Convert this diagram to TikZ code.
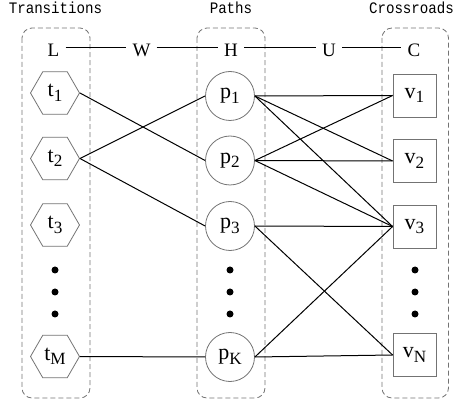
\documentclass[tikz,border=0pt]{standalone}
\usepackage{fontspec}
\newfontfamily\titlefont[FakeStretch=0.885]{Liberation Mono}
\newfontfamily\lblfont{Liberation Serif}
\newcommand\lsub[1]{\raisebox{-0.2em}{\scalebox{0.78}{#1}}}
\usetikzlibrary{shapes.geometric}
\begin{document}
\begin{tikzpicture}[x=1pt,y=-1pt,
  title/.style={font=\titlefont\fontsize{16}{18}\selectfont, anchor=base, inner sep=0pt},
  grp/.style={draw=black!55, dash pattern=on 5pt off 3pt, rounded corners=10pt, line width=0.8pt},
  hdr/.style={font=\lblfont\fontsize{19}{22}\selectfont, anchor=base, inner xsep=6pt, inner ysep=0pt, text height=18.4pt, text depth=0pt},
  hexnode/.style={regular polygon, regular polygon sides=6, draw=black!55, line width=0.8pt, minimum size=49pt, inner sep=0pt, font=\lblfont\fontsize{22}{24}\selectfont},
  pnode/.style={circle, draw=black!55, line width=0.8pt, minimum size=49pt, inner sep=0pt, font=\lblfont\fontsize{22}{24}\selectfont},
  vnode/.style={rectangle, draw=black!55, line width=0.8pt, minimum size=43pt, inner sep=0pt, font=\lblfont\fontsize{22}{24}\selectfont},
  dotnode/.style={circle, fill=black, inner sep=0pt, minimum size=7pt},
  link/.style={draw=black, line width=1pt}
]
\useasboundingbox (0,0) rectangle (456,409);
% groups
\draw[grp] (22,28) rectangle (90,398);
\draw[grp] (197,28) rectangle (265,398);
\draw[grp] (382,28) rectangle (448.5,398);
% titles
\node[title] (tT) at (55.5,13.3) {Transitions};
\node[title] (tP) at (231,13.3) {Paths};
\node[title] (tC) at (411.5,13.3) {Crossroads};
% header
\node[hdr] (L) at (53.5,56.5) {L};
\node[hdr] (W) at (141.5,56.5) {W};
\node[hdr] (H) at (231,56.5) {H};
\node[hdr] (U) at (329,56.5) {U};
\node[hdr] (C) at (414,56.5) {C};
\draw[link] (L) -- (W);
\draw[link] (W) -- (H);
\draw[link] (H) -- (U);
\draw[link] (U) -- (C);
% transitions
\node[hexnode] (t1) at (55,93) {t\lsub{1}};
\node[hexnode] (t2) at (55,158.5) {t\lsub{2}};
\node[hexnode] (t3) at (55,225) {t\lsub{3}};
\node[hexnode] (tM) at (55,356.5) {t\lsub{M}};
% paths
\node[pnode] (p1) at (230,96) {p\lsub{1}};
\node[pnode] (p2) at (230,160.5) {p\lsub{2}};
\node[pnode] (p3) at (230,226) {p\lsub{3}};
\node[pnode] (pK) at (230,357) {p\lsub{K}};
% crossroads
\node[vnode] (v1) at (414.5,95.5) {v\lsub{1}};
\node[vnode] (v2) at (414.5,161) {v\lsub{2}};
\node[vnode] (v3) at (414.5,226.5) {v\lsub{3}};
\node[vnode] (vN) at (414.5,355) {v\lsub{N}};
% dots
\foreach \c/\x in {a/55,b/230,c/415}{
  \node[dotnode] (d\c1) at (\x,270) {};
  \node[dotnode] (d\c2) at (\x,292) {};
  \node[dotnode] (d\c3) at (\x,314) {};
}
% links
\draw[link] (t1.east) -- (p2.west);
\draw[link] (t2.east) -- (p1.west);
\draw[link] (t2.east) -- (p3.west);
\draw[link] (tM.east) -- (pK.west);
\draw[link] (p1.east) -- (v1.west);
\draw[link] (p1.east) -- (v2.west);
\draw[link] (p1.east) -- (v3.west);
\draw[link] (p2.east) -- (v1.west);
\draw[link] (p2.east) -- (v2.west);
\draw[link] (p2.east) -- (v3.west);
\draw[link] (p3.east) -- (v3.west);
\draw[link] (p3.east) -- (vN.west);
\draw[link] (pK.east) -- (v3.west);
\draw[link] (pK.east) -- (vN.west);
\end{tikzpicture}
\end{document}
